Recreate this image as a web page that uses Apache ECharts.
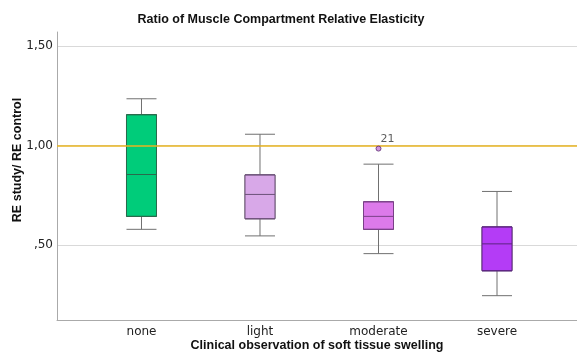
<!DOCTYPE html>
<html><head><meta charset="utf-8">
<script src="https://cdn.jsdelivr.net/npm/echarts@6/dist/echarts.min.js"></script>
<style>html,body{margin:0;padding:0;background:#fff}#c{width:577px;height:356px}</style>
</head><body><div id="c"></div>
<script>
const categories = ['none', 'light', 'moderate', 'severe'];
// [min, Q1, median, Q3, max]
const boxValues = [
  [0.58, 0.645, 0.855, 1.155, 1.235],
  [0.547, 0.633, 0.755, 0.853, 1.057],
  [0.458, 0.58, 0.645, 0.718, 0.907],
  [0.247, 0.372, 0.507, 0.592, 0.77]
];
const outliers = [[2, 0.985, '21']];
const yTicks = [0.5, 1.0, 1.5];
const yTickLabels = [',50', '1,00', '1,50'];
const refLine = 1.0;
const fills = ['#00cc7a', '#d8a8e8', '#dc7aea', '#b43cf6'];
const borders = ['#2a6a4c', '#6c5078', '#7a4088', '#5c2480'];

const X_MIN = -0.713, X_MAX = 3.675, Y_MIN = 0.125, Y_MAX = 1.57;
const chart = echarts.init(document.getElementById('c'), null, {renderer: 'canvas'});
const font = 'DejaVu Sans';
chart.setOption({
  animation: false,
  title: {
    text: 'Ratio of Muscle Compartment Relative Elasticity',
    left: 276, top: 8, textAlign: 'center',
    textStyle: {fontFamily: 'Liberation Sans', fontWeight: 'bold', fontSize: 12.5, color: '#111'}
  },
  graphic: [{
    type: 'text', x: 11, y: 160, rotation: Math.PI / 2,
    style: {text: 'RE study/ RE control', fontFamily: 'Liberation Sans', fontWeight: 'bold', fontSize: 12.5,
      fill: '#111', align: 'center', verticalAlign: 'top'}
  }],
  grid: {left: 57, right: 0, top: 32, bottom: 36, containLabel: false, outerBoundsMode: 'none'},
  xAxis: [{
    type: 'value', min: X_MIN, max: X_MAX,
    axisLine: {show: true, onZero: false, lineStyle: {color: '#aaa', width: 1}},
    axisTick: {show: false, customValues: [0, 1, 2, 3]},
    splitLine: {show: false},
    axisLabel: {customValues: [0, 1, 2, 3], formatter: v => categories[Math.round(v)] || '',
      fontFamily: font, fontSize: 12, color: '#222', margin: 6},
    name: 'Clinical observation of soft tissue swelling', nameLocation: 'middle', nameGap: 19,
    nameMoveOverlap: false,
    nameTextStyle: {fontFamily: 'Liberation Sans', fontWeight: 'bold', fontSize: 12.5, color: '#111'}
  }, {
    type: 'value', min: X_MIN, max: X_MAX, show: false, splitLine: {show: false}
  }],
  yAxis: [{
    type: 'value', min: Y_MIN, max: Y_MAX,
    axisLine: {show: true, onZero: false, lineStyle: {color: '#aaa', width: 1}},
    axisTick: {show: false, customValues: yTicks},
    splitLine: {show: true, lineStyle: {color: '#d9d9d9', width: 1}},
    axisLabel: {customValues: yTicks, formatter: v => yTickLabels[yTicks.indexOf(Math.round(v * 100) / 100)] || '',
      fontFamily: font, fontSize: 12, color: '#222', margin: 4}
  }, {
    type: 'value', min: Y_MIN, max: Y_MAX, show: false, splitLine: {show: false}
  }],
  series: [{
    // whiskers (gray)
    type: 'boxplot',
    layout: 'horizontal',
    boxWidth: [30, 30],
    data: boxValues.map((b, i) => ({
      value: [i].concat(b),
      itemStyle: {color: fills[i], borderColor: '#707070', borderWidth: 1}
    }))
  }, {
    // boxes with coloured borders
    type: 'boxplot',
    layout: 'horizontal',
    xAxisIndex: 1, yAxisIndex: 1,
    boxWidth: [30, 30],
    z: 3,
    data: boxValues.map((b, i) => ({
      value: [i, b[1], b[1], b[2], b[3], b[3]],
      itemStyle: {color: fills[i], borderColor: borders[i], borderWidth: 1}
    }))
  }, {
    type: 'scatter',
    z: 4,
    data: outliers.map(o => [o[0], o[1]]),
    symbol: 'circle', symbolSize: 5,
    itemStyle: {color: '#c57bd6', borderColor: '#5a2a70', borderWidth: 1},
    label: {show: true, formatter: p => outliers[p.dataIndex][2], position: [5, -12],
      fontFamily: font, fontSize: 11, color: '#333'},
    markLine: {
      silent: true, symbol: 'none', label: {show: false}, z: 4,
      lineStyle: {color: '#e8b421', width: 1.5, type: 'solid'},
      data: [{yAxis: refLine}]
    }
  }]
});
</script></body></html>
